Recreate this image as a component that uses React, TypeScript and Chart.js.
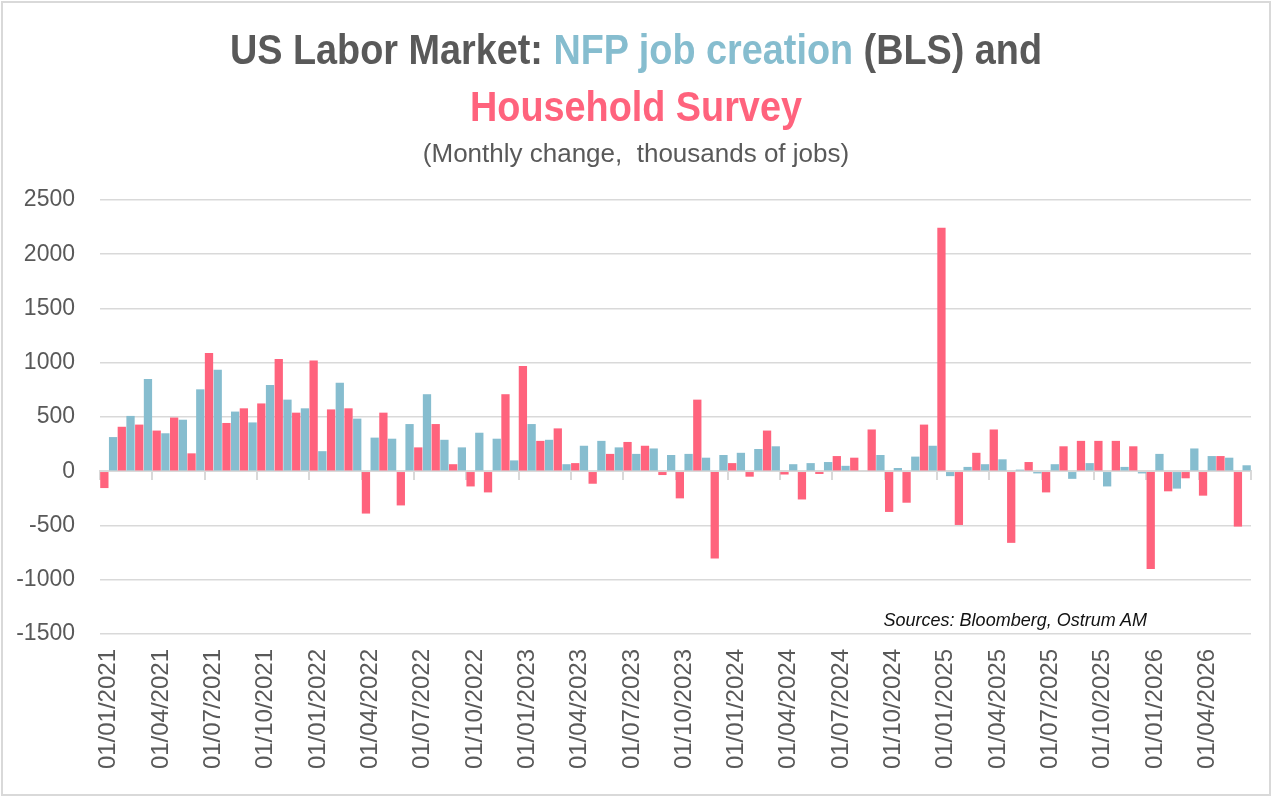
import React, { useEffect, useRef } from 'react';
import { Chart, registerables } from 'chart.js';

Chart.register(...registerables);

// Month start dates, one category per month
const months = [
  '01/01/2021', '01/02/2021', '01/03/2021', '01/04/2021', '01/05/2021', '01/06/2021',
  '01/07/2021', '01/08/2021', '01/09/2021', '01/10/2021', '01/11/2021', '01/12/2021',
  '01/01/2022', '01/02/2022', '01/03/2022', '01/04/2022', '01/05/2022', '01/06/2022',
  '01/07/2022', '01/08/2022', '01/09/2022', '01/10/2022', '01/11/2022', '01/12/2022',
  '01/01/2023', '01/02/2023', '01/03/2023', '01/04/2023', '01/05/2023', '01/06/2023',
  '01/07/2023', '01/08/2023', '01/09/2023', '01/10/2023', '01/11/2023', '01/12/2023',
  '01/01/2024', '01/02/2024', '01/03/2024', '01/04/2024', '01/05/2024', '01/06/2024',
  '01/07/2024', '01/08/2024', '01/09/2024', '01/10/2024', '01/11/2024', '01/12/2024',
  '01/01/2025', '01/02/2025', '01/03/2025', '01/04/2025', '01/05/2025', '01/06/2025',
  '01/07/2025', '01/08/2025', '01/09/2025', '01/10/2025', '01/11/2025', '01/12/2025',
  '01/01/2026', '01/02/2026', '01/03/2026', '01/04/2026', '01/05/2026', '01/06/2026',
];

// Household survey, monthly change in employment (thousands)
const householdSurvey = [
  -155, 410, 430, 375, 495, 165, 1090, 445, 580, 625, 1035, 540,
  1020, 570, 580, -390, 540, -315, 220, 435, 65, -140, -195, 710,
  970, 280, 395, 75, -115, 160, 270, 235, -35, -250, 660, -805,
  75, -50, 375, -30, -260, -25, 140, 125, 385, -375, -290, 430,
  2245, -495, 170, 385, -660, 85, -195, 230, 280, 280, 280, 230,
  -900, -185, -65, -225, 140, -510,
];

// Nonfarm payrolls (BLS establishment survey), monthly change (thousands)
const nfpPayrolls = [
  315, 510, 850, 350, 475, 755, 935, 550, 450, 795, 660, 580,
  185, 815, 485, 310, 300, 435, 710, 290, 220, 355, 300, 100,
  435, 290, 65, 235, 280, 220, 160, 210, 150, 160, 125, 150,
  170, 205, 230, 65, 75, 85, 50, 0, 150, 30, 135, 235,
  -45, 40, 65, 110, 15, -20, 65, -70, 75, -140, 40, -20,
  160, -160, 210, 140, 125, 55,
];

const yMin = -1500;
const yMax = 2500;
const yStep = 500;

const RED = '#FF637D';
const BLUE = '#86BDCF';
const TEXT_GREY = '#595959';
const GRID_GREY = '#D9D9D9';
const SANS = "'Liberation Sans', Arial, sans-serif";

function LaborChart() {
  const canvasRef = useRef<HTMLCanvasElement | null>(null);

  useEffect(() => {
    if (!canvasRef.current) return;
    const chart = new Chart(canvasRef.current, {
      type: 'bar',
      data: {
        labels: months,
        datasets: [
          {
            label: 'Household Survey',
            data: householdSurvey,
            backgroundColor: RED,
            borderWidth: 0,
            xAxisID: 'x',
            yAxisID: 'y',
          },
          {
            label: 'NFP job creation (BLS)',
            data: nfpPayrolls,
            backgroundColor: BLUE,
            borderWidth: 0,
            xAxisID: 'x',
            yAxisID: 'y',
          },
        ],
      },
      options: {
        animation: false,
        responsive: true,
        maintainAspectRatio: false,
        layout: { padding: { top: 200, left: 15, right: 21, bottom: 0 } },
        datasets: { bar: { categoryPercentage: 1, barPercentage: 0.95 } },
        plugins: {
          legend: { display: false },
          title: { display: false },
          tooltip: { enabled: false },
        },
        scales: {
          x: {
            type: 'category',
            position: 'bottom',
            grid: { display: false, drawTicks: false },
            border: { display: false },
            ticks: {
              autoSkip: false,
              minRotation: 90,
              maxRotation: 90,
              padding: 15,
              color: TEXT_GREY,
              font: { family: SANS, size: 24 },
              callback: (_v: any, i: number) => (i % 3 === 0 ? months[i] : ''),
            },
            afterFit: (s: any) => {
              s.height = 163;
              s.paddingLeft = 0;
              s.paddingRight = 0;
            },
          },
          xZero: {
            type: 'category',
            position: { y: 0 },
            ticks: { display: false },
            grid: {
              drawOnChartArea: false,
              drawTicks: true,
              tickLength: 8,
              lineWidth: 2,
              color: (ctx: any) =>
                ctx.index === undefined || ctx.index % 3 === 0 ? GRID_GREY : 'rgba(0,0,0,0)',
            },
            border: { display: true, color: GRID_GREY, width: 2 },
            afterFit: (s: any) => {
              s.paddingLeft = 0;
              s.paddingRight = 0;
            },
          },
          y: {
            min: yMin,
            max: yMax,
            ticks: {
              stepSize: yStep,
              padding: 25,
              color: TEXT_GREY,
              font: { family: SANS, size: 23 },
              callback: (v: any) => String(v),
            },
            grid: { color: GRID_GREY, lineWidth: 1.6, drawTicks: false },
            border: { display: false },
            afterFit: (s: any) => {
              s.width = 85;
            },
          },
        },
      } as any,
    });
    return () => chart.destroy();
  }, []);

  return <canvas ref={canvasRef} />;
}

export default function App() {
  const titleLine: React.CSSProperties = {
    position: 'absolute',
    left: 0,
    width: 1272,
    textAlign: 'center',
    fontFamily: SANS,
    fontWeight: 700,
    fontSize: 42,
    lineHeight: '42px',
    color: TEXT_GREY,
    whiteSpace: 'nowrap',
    transform: 'scaleX(0.9)',
    transformOrigin: '636px 50%',
  };
  return (
    <div
      style={{
        position: 'fixed',
        left: 0,
        top: 0,
        width: 1272,
        height: 797,
        background: '#ffffff',
        overflow: 'hidden',
      }}
    >
      <div style={{ position: 'absolute', left: 0, top: 0, width: 1272, height: 797 }}>
        <LaborChart />
      </div>
      <div style={{ ...titleLine, top: 29 }}>
        US Labor Market: <span style={{ color: BLUE }}>NFP job creation</span> (BLS) and
      </div>
      <div style={{ ...titleLine, top: 86, color: RED }}>Household Survey</div>
      <div
        style={{
          position: 'absolute',
          left: 0,
          width: 1272,
          top: 140,
          textAlign: 'center',
          fontFamily: SANS,
          fontSize: 26,
          lineHeight: '26px',
          color: TEXT_GREY,
          whiteSpace: 'pre',
        }}
      >
        {'(Monthly change,  thousands of jobs)'}
      </div>
      <div
        style={{
          position: 'absolute',
          right: 1272 - 1147,
          top: 611,
          fontFamily: SANS,
          fontStyle: 'italic',
          fontSize: 18,
          lineHeight: '18px',
          color: '#111111',
          whiteSpace: 'nowrap',
        }}
      >
        Sources: Bloomberg, Ostrum AM
      </div>
      <div
        style={{
          position: 'absolute',
          left: 1,
          top: 1,
          width: 1270,
          height: 795,
          boxSizing: 'border-box',
          border: `2px solid ${GRID_GREY}`,
          pointerEvents: 'none',
        }}
      />
    </div>
  );
}
